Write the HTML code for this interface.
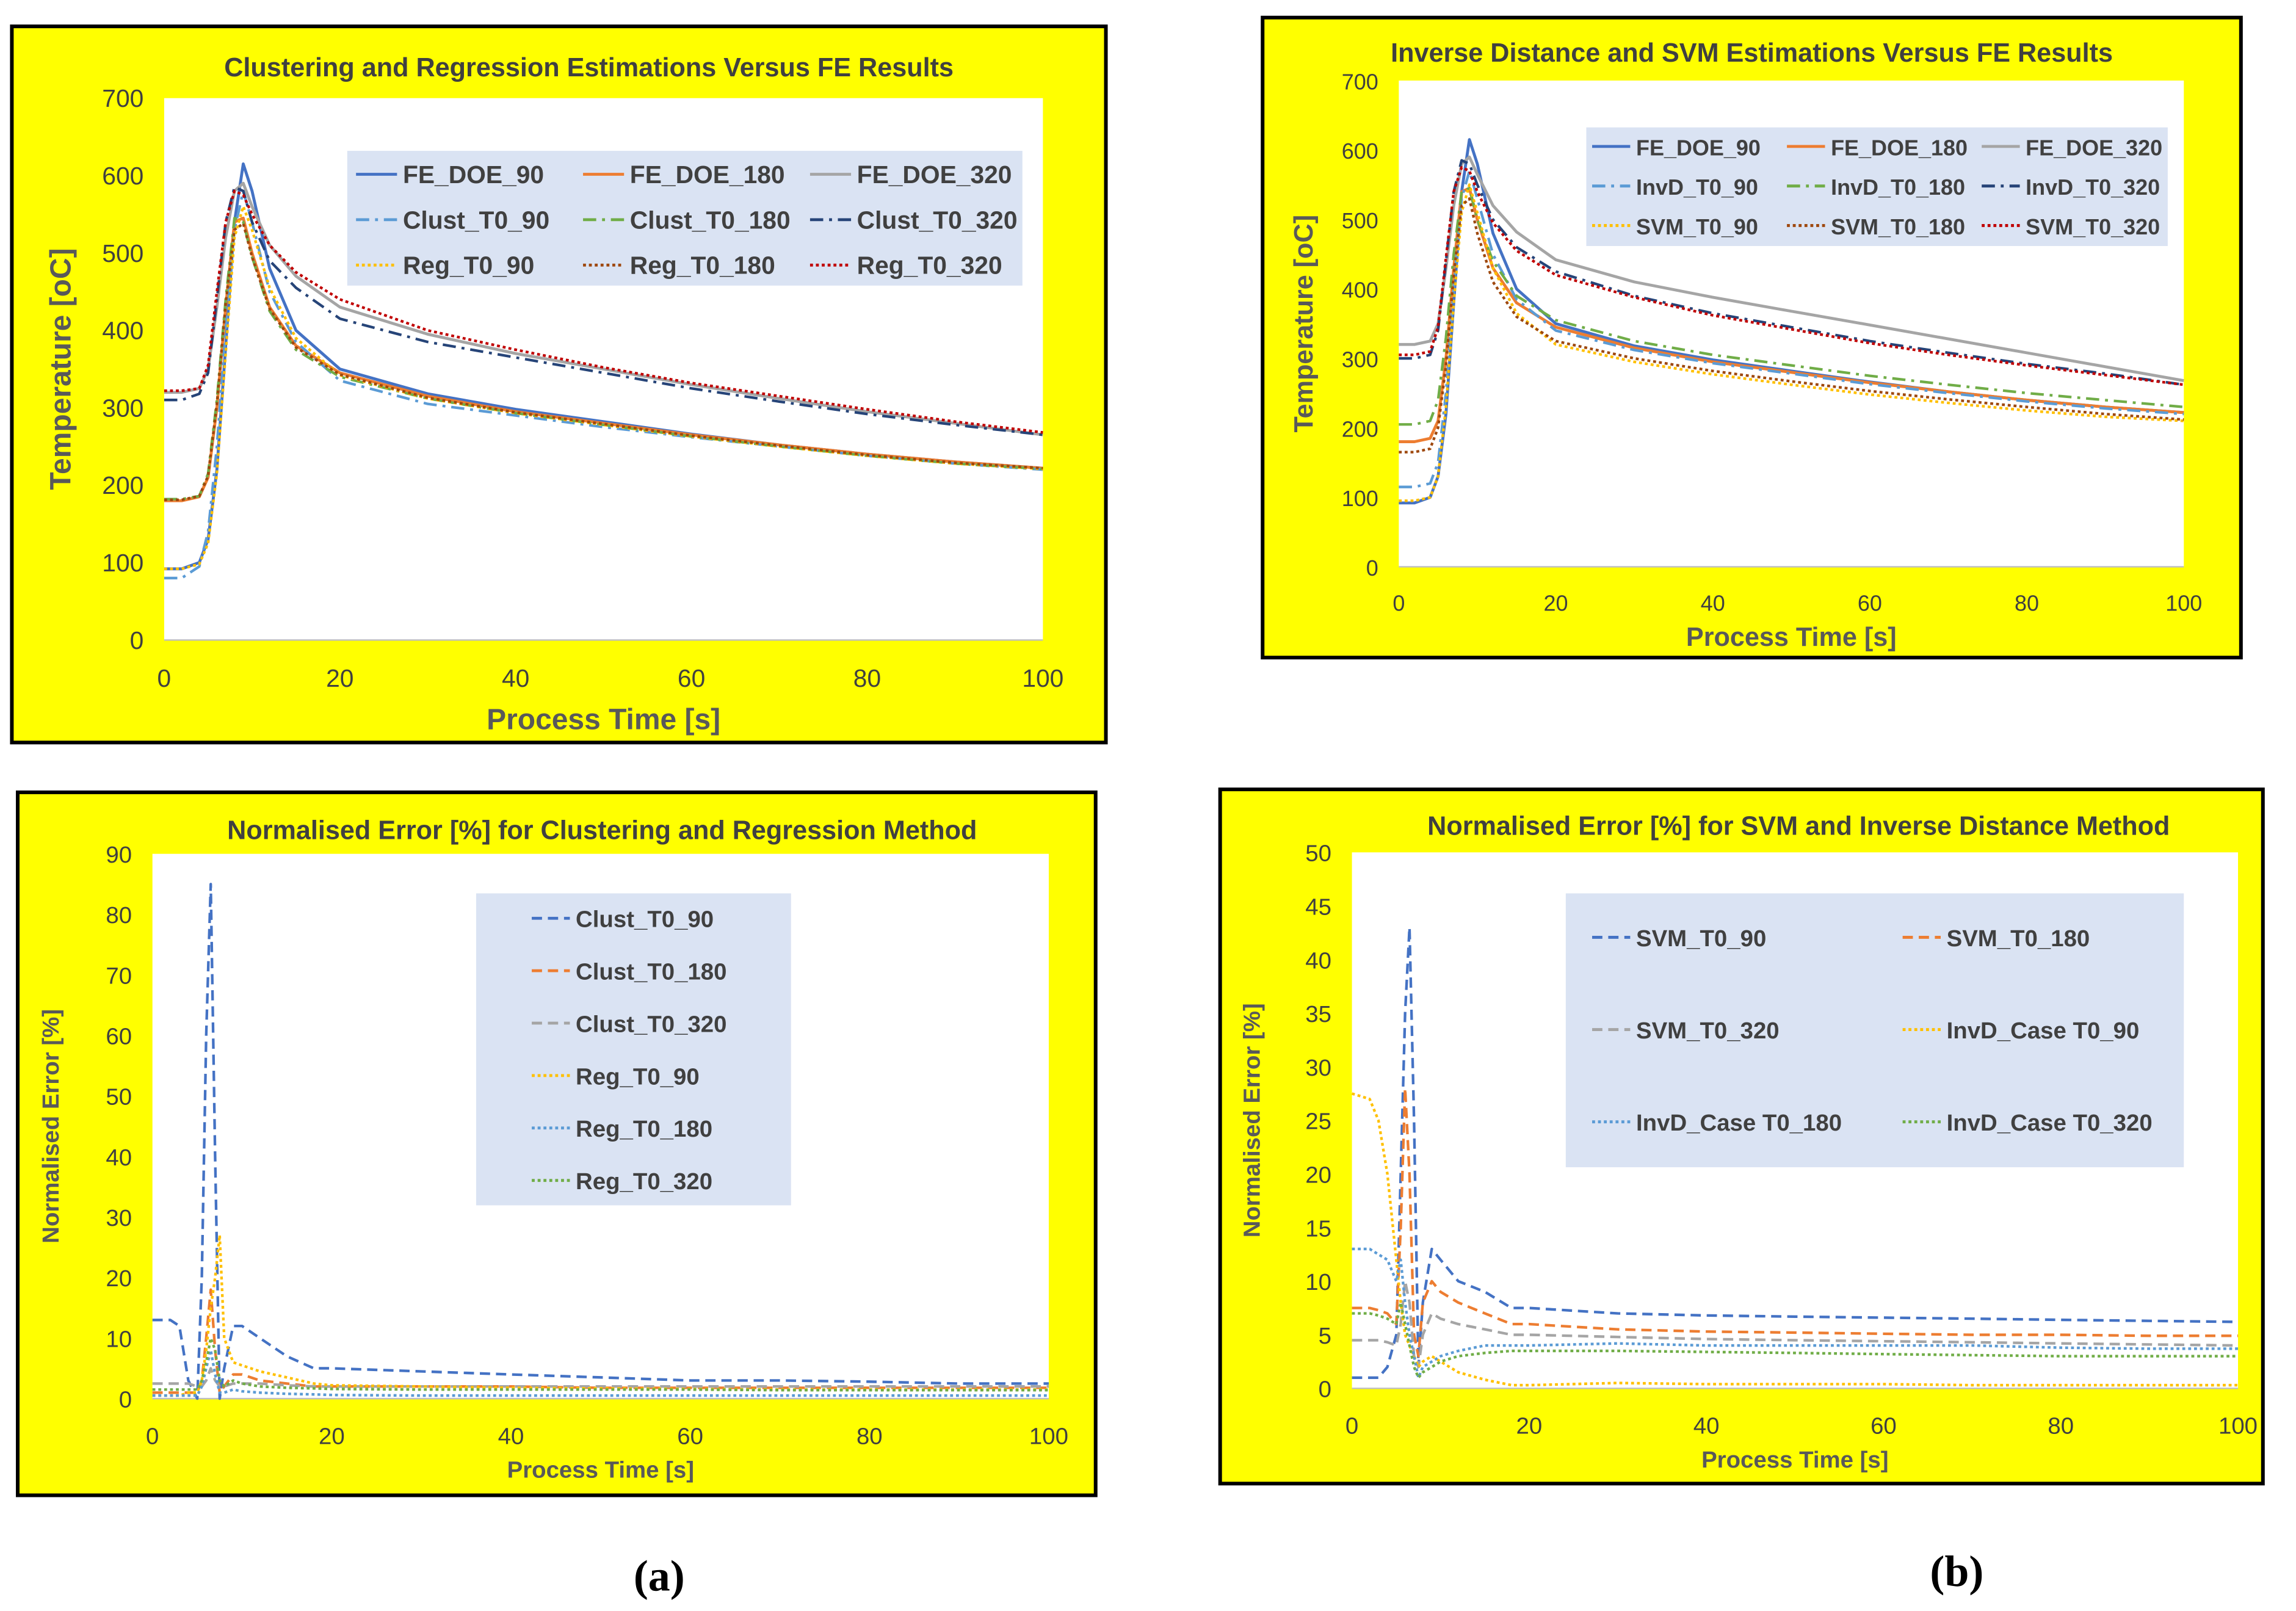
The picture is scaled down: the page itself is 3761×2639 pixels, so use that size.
<!DOCTYPE html>
<html><head><meta charset="utf-8"><style>
html,body{margin:0;padding:0;background:#fff;}
svg{display:block;font-family:"Liberation Sans",sans-serif;}
</style></head><body>
<svg id="root" width="3761" height="2639" viewBox="0 0 1567.5 1100" xmlns="http://www.w3.org/2000/svg">
<text x="450" y="1086" font-family="Liberation Serif" font-weight="bold" font-size="30" text-anchor="middle">(a)</text>
<text x="1336" y="1083" font-family="Liberation Serif" font-weight="bold" font-size="30" text-anchor="middle">(b)</text>
</svg>
<script>
// ---- data ----
const tT = [0,2,4,5,6,7,8,9,10,12,15,20,30,40,50,60,70,80,90,100];
const fe90 = [92,92,100,130,220,380,540,615,580,480,400,350,318,298,282,266,252,240,230,222];
const fe180 = [180,180,185,210,300,430,540,545,500,430,380,345,315,295,280,265,252,240,230,222];
const fe320 = [320,320,325,350,430,520,580,590,560,510,470,430,395,370,350,330,312,295,280,265];
const fe320b = [320,320,325,350,430,520,580,590,565,520,482,442,410,388,368,348,328,308,288,268];
const clust90 = [80,80,95,140,250,400,530,580,540,450,385,335,305,290,275,262,250,238,228,220];
const clust180 = [182,182,186,215,310,440,545,540,495,425,375,340,312,293,278,263,250,238,228,221];
const clust320 = [310,310,318,345,440,540,585,580,540,490,455,415,385,365,345,325,308,292,278,265];
const reg90 = [92,92,98,125,215,370,520,560,530,455,390,342,312,293,278,263,250,238,228,221];
const reg180 = [181,181,186,212,305,435,530,538,495,428,378,343,313,294,279,264,251,239,229,222];
const reg320 = [322,322,325,355,450,540,580,575,550,510,475,440,400,375,352,332,315,298,282,268];
const inv90 = [115,115,120,150,250,400,530,570,530,450,385,340,312,293,278,263,250,238,228,220];
const inv180 = [205,205,210,240,330,450,540,545,500,440,390,355,325,305,290,275,262,250,240,230];
const inv320 = [300,300,305,340,440,540,585,580,550,500,460,425,390,365,345,325,308,292,278,262];
const svm90 = [95,95,100,130,230,380,510,550,510,430,365,320,295,277,262,248,236,225,216,210];
const svm180 = [165,165,170,200,290,420,520,530,480,410,360,325,300,282,267,253,241,230,220,212];
const svm320 = [305,305,310,345,445,540,575,570,540,495,455,420,388,362,342,322,305,290,276,262];

const tE = [0,2,3,4,5,5.5,6,6.5,7,7.5,8,9,10,12,15,18,20,30,40,50,60,70,80,90,100];
const eClust90 = [13,13,12,3,0,20,60,85,40,0,5,12,12,10,7,5,5,4.5,4,3.5,3,3,2.8,2.5,2.5];
const eClust180 = [1,1,1,1,1,3,10,18,8,1,2,4,4,3,2.5,2,2,2,2,1.8,1.8,1.8,1.8,1.8,1.8];
const eClust320 = [2.5,2.5,2.5,2.5,2,2,3,5,3,2,2,2.5,2.5,2.5,2.2,2,2,2,2,2,2,2,2,2,2];
const eReg90 = [0.5,0.5,0.5,1,1,3,8,15,20,27,10,6,5.5,4.5,3.5,2.5,2.2,2,1.8,1.7,1.6,1.5,1.5,1.5,1.5];
const eReg180 = [0.5,0.5,0.5,0.5,0.5,2,5,8,4,1,1,1.5,1.2,1,0.8,0.7,0.6,0.5,0.5,0.5,0.5,0.5,0.5,0.5,0.5];
const eReg320 = [1.5,1.5,1.5,1.5,1.5,3,6,10,8,3,2,3,2.5,2,1.8,1.7,1.6,1.5,1.5,1.5,1.5,1.4,1.4,1.4,1.4];
const eSvm90 = [1,1,1,2,5,20,35,43,25,2,8,13,12,10,9,7.5,7.5,7,6.8,6.7,6.6,6.5,6.4,6.3,6.2];
const eSvm180 = [7.5,7.5,7.3,7,6,15,28,20,5,3,8,10,9,8,7,6,6,5.5,5.3,5.2,5.1,5,5,4.9,4.9];
const eSvm320 = [4.5,4.5,4.5,4.3,4,6,10,8,3,2,5,7,6.5,6,5.5,5,5,4.8,4.6,4.5,4.4,4.3,4.2,4.1,4];
const eInv90 = [27.5,27,25,20,12,8,5,4,3,2,2.5,3,2.5,1.5,0.8,0.3,0.3,0.5,0.4,0.4,0.4,0.3,0.3,0.3,0.3];
const eInv180 = [13,13,12.5,12,10,12,8,5,3,1,2,2.5,3,3.5,4,4,4,4.2,4,4,4,4,3.8,3.7,3.7];
const eInv320 = [7,7,6.8,6.5,6,8,6,4,2,1,1.5,2,2.5,3,3.3,3.5,3.5,3.5,3.4,3.3,3.2,3.1,3,3,3];

const xTicks = [0,20,40,60,80,100];
const tempTicks = [0,100,200,300,400,500,600,700];
const errTicksC = [0,10,20,30,40,50,60,70,80,90];
const errTicksD = [0,5,10,15,20,25,30,35,40,45,50];

const NS = "http://www.w3.org/2000/svg";
const root = document.getElementById('root');
function mk(tag, attrs, parent){
  const e = document.createElementNS(NS, tag);
  for (const k in attrs) e.setAttribute(k, attrs[k]);
  (parent||root).appendChild(e);
  return e;
}
const DASH = {solid:'', dash:'7,4', dashdot:'9,4,2,4', dot:'2,2'};

function chart(cfg){
  const g = mk('g', {});
  
  
  const bg = mk('rect', {x:cfg.box[0], y:cfg.box[1], width:cfg.box[2]-cfg.box[0], height:cfg.box[3]-cfg.box[1], fill:'#FFFF00', stroke:'#000', 'stroke-width':2.5}, g);
  
  
  const [px0, py0, px1, py1] = cfg.plot;
  const pa = mk('rect', {x:px0, y:py0, width:px1-px0, height:py1-py0, fill:'#fff'}, g);
  
  
  const ymax = cfg.yTicks[cfg.yTicks.length-1];
  const X = v => px0 + v/100*(px1-px0);
  const Y = v => py1 - v/ymax*(py1-py0);
  const ax = mk('line', {x1:px0, x2:px1, y1:py1, y2:py1, stroke:'#bfbfbf', 'stroke-width':1}, g);
  
  
  cfg.yTicks.forEach(v => {
    const t = mk('text', {x:px0-14, y:Y(v)+6, 'text-anchor':'end', 'font-size':cfg.tick, fill:'#404040'}, g);
    t.textContent = v;
    
    
  });
  xTicks.forEach(v => {
    const t = mk('text', {x:X(v), y:py1+cfg.tick+15, 'text-anchor':'middle', 'font-size':cfg.tick, fill:'#404040'}, g);
    t.textContent = v;
    
    
  });
  const ti = mk('text', {x:cfg.titleX, y:cfg.titleY, 'text-anchor':'middle', 'font-size':18, 'font-weight':'bold', fill:'#404040'}, g);
  ti.textContent = cfg.title;
  
  
  const xt = mk('text', {x:(px0+px1)/2, y:cfg.xTitleY, 'text-anchor':'middle', 'font-size':cfg.axisT, 'font-weight':'bold', fill:'#595959'}, g);
  xt.textContent = 'Process Time [s]';
  
  
  const yc = (py0+py1)/2;
  const yt = mk('text', {x:cfg.yTitleX, y:yc, 'text-anchor':'middle', 'font-size':cfg.axisT, 'font-weight':'bold', fill:'#595959', transform:`rotate(-90 ${cfg.yTitleX} ${yc})`}, g);
  yt.textContent = cfg.yTitle;
  
  
  cfg.series.forEach(s => {
    const d = s.v.map((v,i) => (i?'L':'M') + X(cfg.t[i]).toFixed(1) + ',' + Y(v).toFixed(1)).join(' ');
    const p = mk('path', {d:d, fill:'none', stroke:s.c, 'stroke-width':s.style==='solid'?2:1.8, 'stroke-dasharray':DASH[s.style], 'stroke-linejoin':'round'}, g);
    
    
  });
  const L = cfg.legend;
  const lb = mk('rect', {x:L.x, y:L.y, width:L.w, height:L.h, fill:'#DAE3F3'}, g);
  
  
  cfg.series.forEach((s,i) => {
    const col = i % L.cols, row = Math.floor(i / L.cols);
    const lx = L.x + L.pad + col*L.colW, ly = L.y + L.top + row*L.rowH;
    const ln = mk('line', {x1:lx, x2:lx+L.sw, y1:ly, y2:ly, stroke:s.c, 'stroke-width':2, 'stroke-dasharray':DASH[s.style]}, g);
    
    
    const tx = mk('text', {x:lx+L.sw+4, y:ly+6, 'font-size':L.fs, 'font-weight':'bold', fill:'#404040'}, g);
    tx.textContent = s.n;
    
    
  });
}

chart({name:'chart-clustering-regression', box:[8,18,755,507], plot:[112,67,712,437], yTicks:tempTicks, t:tT,
  title:'Clustering and Regression Estimations Versus FE Results', titleX:402, titleY:52, xTitleY:498, yTitleX:48,
  yTitle:'Temperature [oC]', tick:17, axisT:20,
  legend:{x:237,y:103,w:461,h:92,cols:3,colW:155,rowH:31,top:16,pad:6,sw:28,fs:17},
  series:[
    {n:'FE_DOE_90',v:fe90,c:'#4472C4',style:'solid'},
    {n:'FE_DOE_180',v:fe180,c:'#ED7D31',style:'solid'},
    {n:'FE_DOE_320',v:fe320,c:'#A5A5A5',style:'solid'},
    {n:'Clust_T0_90',v:clust90,c:'#5B9BD5',style:'dashdot'},
    {n:'Clust_T0_180',v:clust180,c:'#70AD47',style:'dashdot'},
    {n:'Clust_T0_320',v:clust320,c:'#264478',style:'dashdot'},
    {n:'Reg_T0_90',v:reg90,c:'#FFC000',style:'dot'},
    {n:'Reg_T0_180',v:reg180,c:'#9E480E',style:'dot'},
    {n:'Reg_T0_320',v:reg320,c:'#C00000',style:'dot'}]});

chart({name:'chart-inverse-distance-svm', box:[862,12,1530,449], plot:[955,55,1491,387], yTicks:tempTicks, t:tT,
  title:'Inverse Distance and SVM Estimations Versus FE Results', titleX:1196, titleY:42, xTitleY:441, yTitleX:896,
  yTitle:'Temperature [oC]', tick:15, axisT:18,
  legend:{x:1083,y:87,w:397,h:81,cols:3,colW:133,rowH:27,top:13,pad:4,sw:26,fs:15},
  series:[
    {n:'FE_DOE_90',v:fe90,c:'#4472C4',style:'solid'},
    {n:'FE_DOE_180',v:fe180,c:'#ED7D31',style:'solid'},
    {n:'FE_DOE_320',v:fe320b,c:'#A5A5A5',style:'solid'},
    {n:'InvD_T0_90',v:inv90,c:'#5B9BD5',style:'dashdot'},
    {n:'InvD_T0_180',v:inv180,c:'#70AD47',style:'dashdot'},
    {n:'InvD_T0_320',v:inv320,c:'#264478',style:'dashdot'},
    {n:'SVM_T0_90',v:svm90,c:'#FFC000',style:'dot'},
    {n:'SVM_T0_180',v:svm180,c:'#9E480E',style:'dot'},
    {n:'SVM_T0_320',v:svm320,c:'#C00000',style:'dot'}]});

chart({name:'chart-error-clustering-regression', box:[12,541,748,1021], plot:[104,583,716,955], yTicks:errTicksC, t:tE,
  title:'Normalised Error [%] for Clustering and Regression Method', titleX:411, titleY:573, xTitleY:1009, yTitleX:40,
  yTitle:'Normalised Error [%]', tick:16, axisT:16,
  legend:{x:325,y:610,w:215,h:213,cols:1,colW:0,rowH:35.8,top:17,pad:38,sw:26,fs:16},
  series:[
    {n:'Clust_T0_90',v:eClust90,c:'#4472C4',style:'dash'},
    {n:'Clust_T0_180',v:eClust180,c:'#ED7D31',style:'dash'},
    {n:'Clust_T0_320',v:eClust320,c:'#A5A5A5',style:'dash'},
    {n:'Reg_T0_90',v:eReg90,c:'#FFC000',style:'dot'},
    {n:'Reg_T0_180',v:eReg180,c:'#5B9BD5',style:'dot'},
    {n:'Reg_T0_320',v:eReg320,c:'#70AD47',style:'dot'}]});

chart({name:'chart-error-svm-inverse-distance', box:[833,539,1545,1013], plot:[923,582,1528,948], yTicks:errTicksD, t:tE,
  title:'Normalised Error [%] for SVM and Inverse Distance Method', titleX:1228, titleY:570, xTitleY:1002, yTitleX:860,
  yTitle:'Normalised Error [%]', tick:16, axisT:16,
  legend:{x:1069,y:610,w:422,h:187,cols:2,colW:212,rowH:63,top:30,pad:18,sw:26,fs:16},
  series:[
    {n:'SVM_T0_90',v:eSvm90,c:'#4472C4',style:'dash'},
    {n:'SVM_T0_180',v:eSvm180,c:'#ED7D31',style:'dash'},
    {n:'SVM_T0_320',v:eSvm320,c:'#A5A5A5',style:'dash'},
    {n:'InvD_Case T0_90',v:eInv90,c:'#FFC000',style:'dot'},
    {n:'InvD_Case T0_180',v:eInv180,c:'#5B9BD5',style:'dot'},
    {n:'InvD_Case T0_320',v:eInv320,c:'#70AD47',style:'dot'}]});
</script>
</body></html>
